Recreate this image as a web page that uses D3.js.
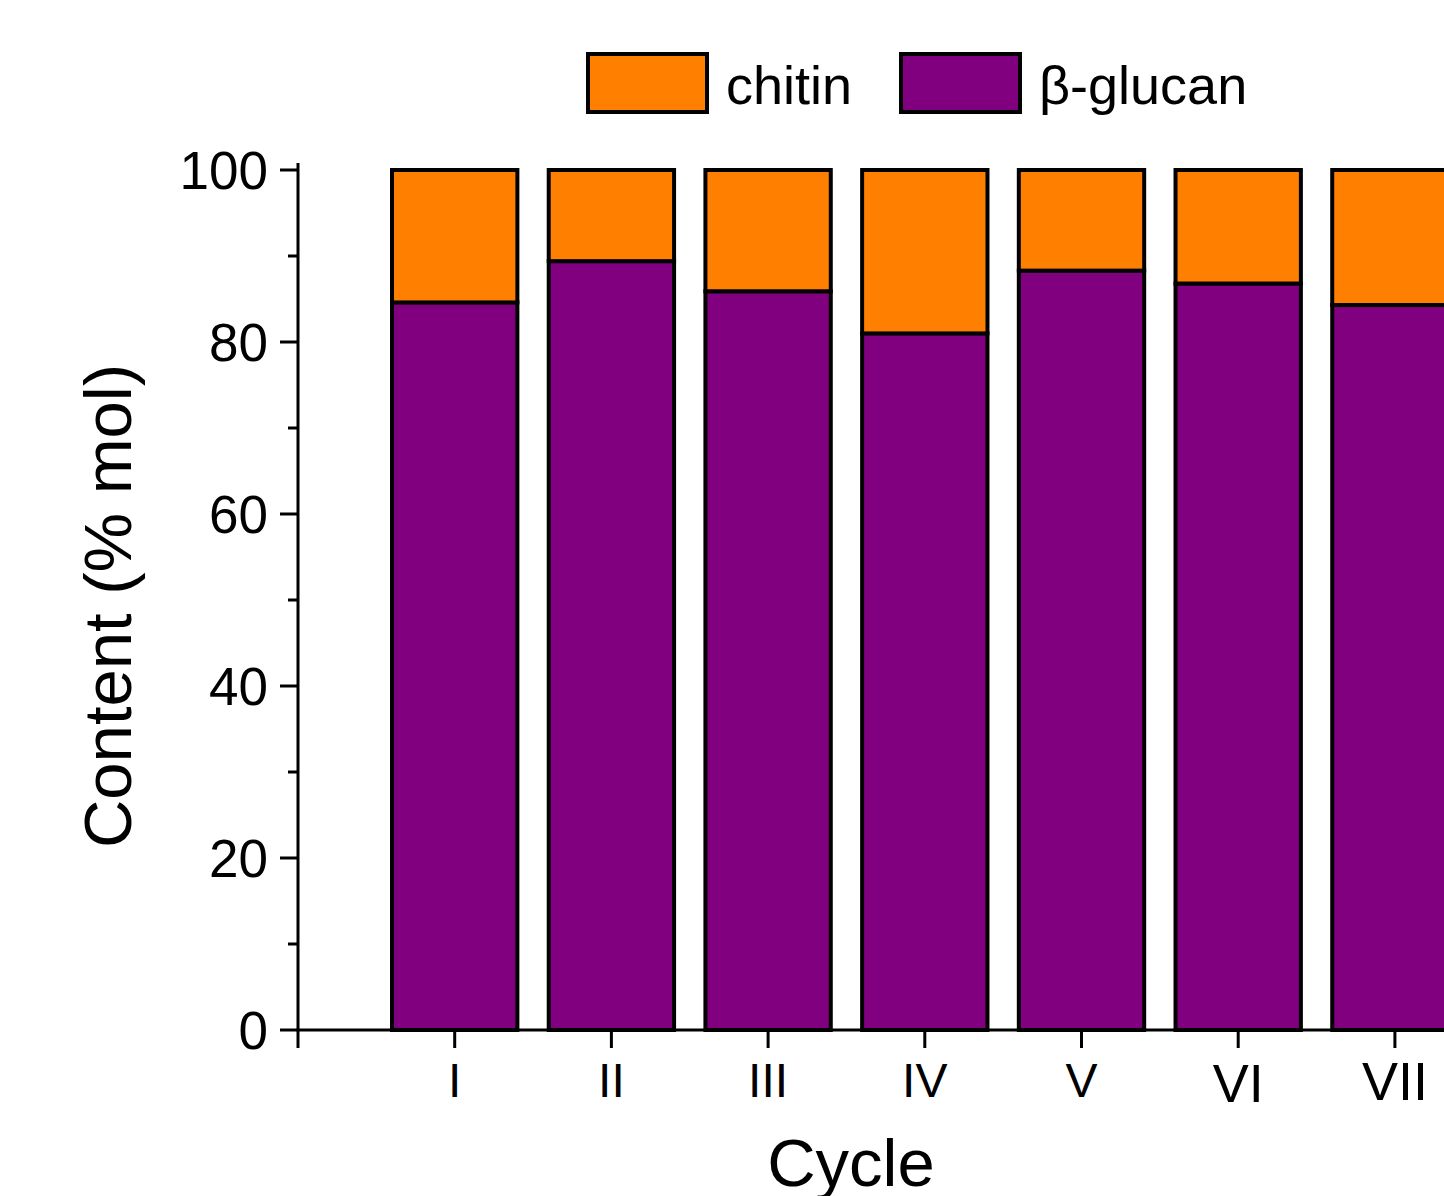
<!DOCTYPE html>
<html>
<head>
<meta charset="utf-8">
<script src="https://cdn.jsdelivr.net/npm/d3@7"></script>
<style>
  body { margin: 0; background: #fff; }
  svg { display: block; font-family: "Liberation Sans", Arial, sans-serif; }
</style>
</head>
<body>
<svg id="chart" width="1444" height="1196"></svg>
<script>
// data
const cycles = ["I", "II", "III", "IV", "V", "VI", "VII"];
const glucan = [84.6, 89.4, 85.9, 81.0, 88.3, 86.8, 84.3];
const chitin = glucan.map(v => 100 - v); // stacks fill up to 100 %
const yTicks = [0, 20, 40, 60, 80, 100];
const yMinor = [10, 30, 50, 70, 90];
const seriesNames = ["chitin", "\u03b2-glucan"];
const colors = {chitin: "#FF8000", glucan: "#800080"};

const svg = d3.select("#chart");

const x = d3.scaleLinear().domain([0, 8]).range([298, 298 + 8 * 156.7]);
const y = d3.scaleLinear().domain([0, 100]).range([1030, 170]);
const barW = 0.8 * (x(1) - x(0));

const rows = cycles.map((c, i) => ({cycle: c, i: i + 1, glucan: glucan[i], chitin: chitin[i]}));
const stack = d3.stack().keys(["glucan", "chitin"])(rows);

// bars
svg.append("g").selectAll("g")
  .data(stack)
  .join("g")
    .attr("fill", d => colors[d.key])
  .selectAll("rect")
  .data(d => d)
  .join("rect")
    .attr("x", d => x(d.data.i) - barW / 2)
    .attr("y", d => y(d[1]))
    .attr("width", barW)
    .attr("height", d => y(d[0]) - y(d[1]))
    .attr("stroke", "#000")
    .attr("stroke-width", 4);

// y axis
const yAxis = svg.append("g").attr("transform", `translate(${x(0)},0)`);
yAxis.append("line")
  .attr("x1", 0).attr("x2", 0)
  .attr("y1", y(100.8)).attr("y2", y(0))
  .attr("stroke", "#000").attr("stroke-width", 3);
yAxis.selectAll(".major").data(yTicks).join("line")
  .attr("x1", -18).attr("x2", 0)
  .attr("y1", d => y(d)).attr("y2", d => y(d))
  .attr("stroke", "#000").attr("stroke-width", 3);
yAxis.selectAll(".minor").data(yMinor).join("line")
  .attr("x1", -10).attr("x2", 0)
  .attr("y1", d => y(d)).attr("y2", d => y(d))
  .attr("stroke", "#000").attr("stroke-width", 3);
yAxis.selectAll("text").data(yTicks).join("text")
  .attr("x", -30)
  .attr("y", d => y(d))
  .attr("dy", "0.36em")
  .attr("text-anchor", "end")
  .attr("font-size", 53)
  .text(d => d);

// x axis
const xAxis = svg.append("g").attr("transform", `translate(0,${y(0)})`);
xAxis.append("line")
  .attr("x1", x(0) - 1.5).attr("x2", x(8))
  .attr("y1", 0).attr("y2", 0)
  .attr("stroke", "#000").attr("stroke-width", 3);
xAxis.selectAll("line.tick").data(d3.range(0, 8)).join("line")
  .attr("class", "tick")
  .attr("x1", d => x(d)).attr("x2", d => x(d))
  .attr("y1", 0).attr("y2", 18)
  .attr("stroke", "#000").attr("stroke-width", 3);
xAxis.selectAll("text").data(rows).join("text")
  .attr("x", d => x(d.i))
  .attr("y", d => d.i >= 6 ? (d.i === 6 ? 72 : 70) : 67)
  .attr("text-anchor", "middle")
  .attr("font-size", d => d.i >= 6 ? 54 : 48)
  .text(d => d.cycle);

// axis titles
svg.append("text")
  .attr("transform", "translate(131,606) rotate(-90)")
  .attr("text-anchor", "middle")
  .attr("font-size", 67)
  .text("Content (% mol)");

svg.append("text")
  .attr("x", 851)
  .attr("y", 1186)
  .attr("text-anchor", "middle")
  .attr("font-size", 67)
  .text("Cycle");

// legend
const legendX = [588, 901];
const legend = svg.append("g");
const items = legend.selectAll("g").data(seriesNames).join("g")
  .attr("transform", (d, i) => `translate(${legendX[i]},54)`);
items.append("rect")
  .attr("width", 119).attr("height", 58)
  .attr("fill", (d, i) => i === 0 ? colors.chitin : colors.glucan)
  .attr("stroke", "#000").attr("stroke-width", 4);
items.append("text")
  .attr("x", 138).attr("y", 50)
  .attr("font-size", 54)
  .text(d => d);
</script>
</body>
</html>
